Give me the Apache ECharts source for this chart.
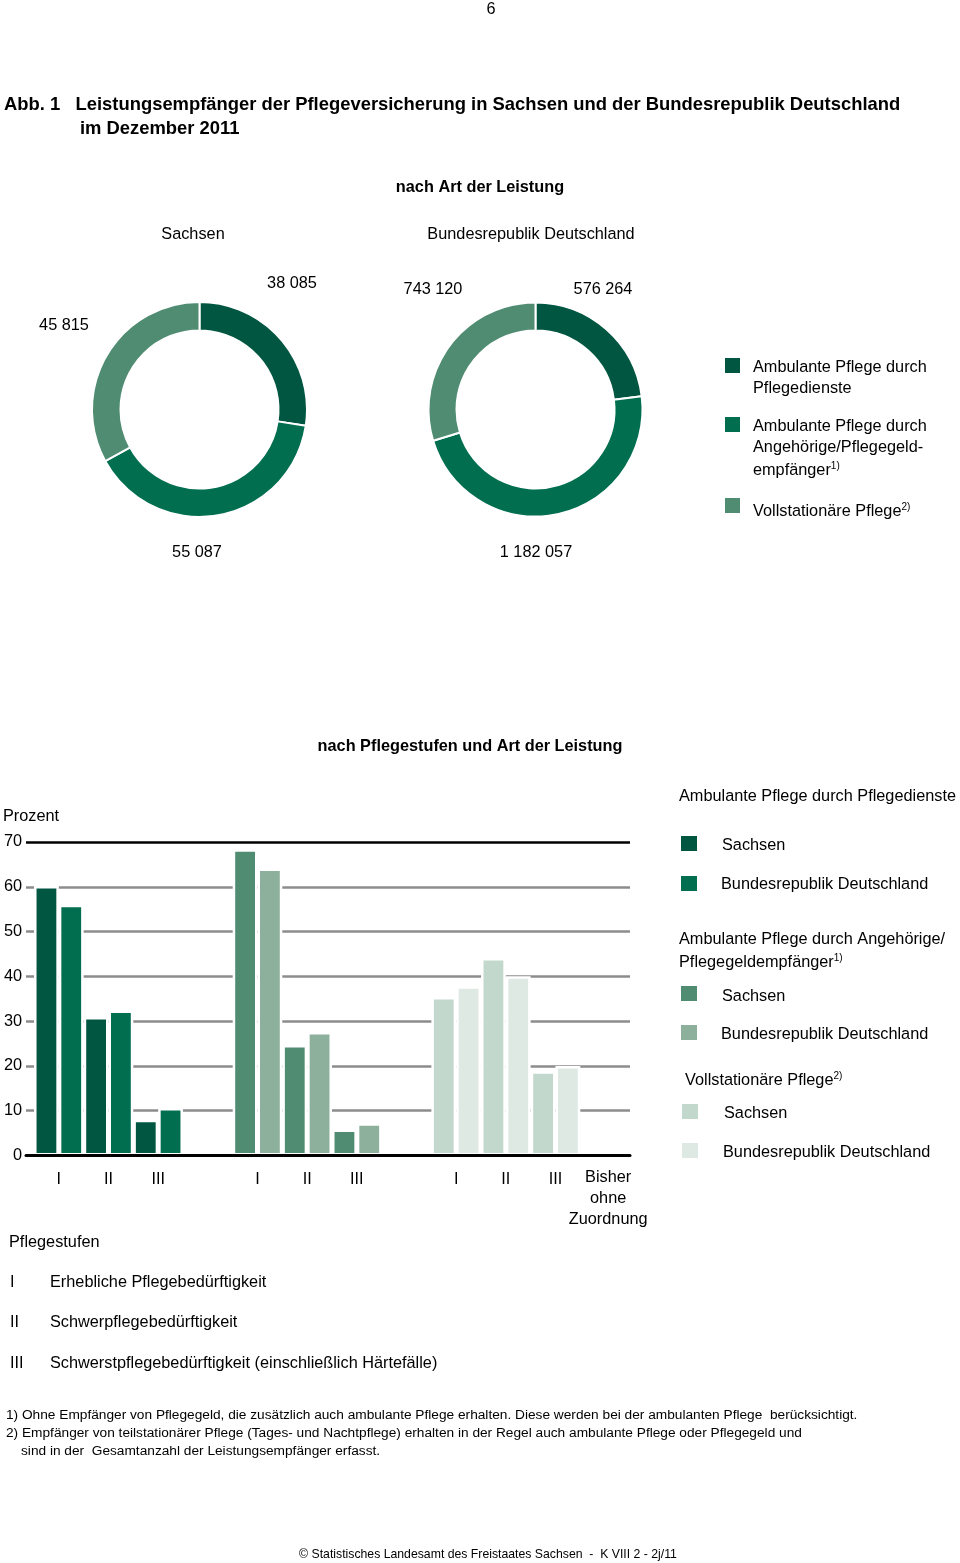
<!DOCTYPE html>
<html>
<head>
<meta charset="utf-8">
<script src="https://cdn.jsdelivr.net/npm/echarts@6/dist/echarts.min.js"></script>
<style>
html,body{margin:0;padding:0;background:#fff;}
#c{width:960px;height:1563px;}
</style>
</head>
<body>
<div id="c"></div>
<script>
// ---- Data: donuts (Leistungsempfänger, Dezember 2011) ----
const pieCategories = ['Ambulante Pflege durch Pflegedienste', 'Ambulante Pflege durch Angehörige/Pflegegeldempfänger', 'Vollstationäre Pflege'];
const pieSachsen = [38085, 55087, 45815];
const pieBRD = [576264, 1182057, 743120];
const pieColors = ['#005640', '#006e4f', '#4f8c72'];

// ---- Data: bars (Prozent nach Pflegestufen) ----
const barCategories = ['I', 'II', 'III', '', 'I', 'II', 'III', '', 'I', 'II', 'III', 'Bisher\nohne\nZuordnung'];
const barSachsen = [60.2, 30.9, 8.0, null, 68.4, 24.7, 5.8, null, 35.4, 44.1, 18.8, 0.4];
const barBRD     = [56.0, 32.4, 10.6, null, 64.1, 27.6, 7.2, null, 37.8, 40.0, 20.0, 0.7];
const colSachsen = ['#005640', '#005640', '#005640', null, '#4f8c72', '#4f8c72', '#4f8c72', null, '#c3d8cd', '#c3d8cd', '#c3d8cd', '#c3d8cd'];
const colBRD     = ['#006e4f', '#006e4f', '#006e4f', null, '#8cb09c', '#8cb09c', '#8cb09c', null, '#dfe9e4', '#dfe9e4', '#dfe9e4', '#dfe9e4'];
const yTicks = [0, 10, 20, 30, 40, 50, 60, 70];

const FONT = '"Liberation Sans", Arial, Helvetica, sans-serif';
const FS = 16.3;
const DY = 1.5;
const fmt = n => String(n).replace(/\B(?=(\d{3})+(?!\d))/g, ' ');

function txt(x, y, text, opt) {
  opt = opt || {};
  return {
    type: 'text', x: x, y: y + DY, z: 20,
    style: Object.assign({
      text: text,
      font: (opt.bold ? 'bold ' : '') + (opt.size || FS) + 'px ' + FONT,
      fill: '#000',
      align: opt.align || 'left',
      verticalAlign: 'middle'
    }, opt.extra || {})
  };
}
function sq(x, y, color, w, h) {
  return { type: 'rect', z: 20, shape: { x: x, y: y, width: w || 15, height: h || 15 }, style: { fill: color } };
}
const supRich = { sup: { fontSize: 10, verticalAlign: 'top', padding: [0, 0, 8, 0], fontFamily: FONT }, n: { fontSize: FS, fontFamily: FONT } };
function supTxt(x, y, main, sup) {
  return { type: 'text', x: x, y: y + DY, z: 20, style: { text: '{n|' + main + '}{sup|' + sup + '}', rich: supRich, fill: '#000', verticalAlign: 'middle' } };
}

const graphics = [
  txt(491, 8, '6', { align: 'center' }),
  txt(4, 103, 'Abb. 1   Leistungsempfänger der Pflegeversicherung in Sachsen und der Bundesrepublik Deutschland', { bold: true, size: 18.4 }),
  txt(80, 127, 'im Dezember 2011', { bold: true, size: 18.4 }),
  txt(480, 186, 'nach Art der Leistung', { bold: true, align: 'center' }),
  txt(193, 233, 'Sachsen', { align: 'center' }),
  txt(531, 233, 'Bundesrepublik Deutschland', { align: 'center' }),
  // donut value labels
  txt(292, 282, fmt(pieSachsen[0]), { align: 'center' }),
  txt(64, 324, fmt(pieSachsen[2]), { align: 'center' }),
  txt(197, 551, fmt(pieSachsen[1]), { align: 'center' }),
  txt(603, 288, fmt(pieBRD[0]), { align: 'center' }),
  txt(433, 288, fmt(pieBRD[2]), { align: 'center' }),
  txt(536, 551, fmt(pieBRD[1]), { align: 'center' }),
  // donut legend
  sq(725, 358, pieColors[0]),
  txt(753, 366, 'Ambulante Pflege durch'),
  txt(753, 387, 'Pflegedienste'),
  sq(725, 417, pieColors[1]),
  txt(753, 425, 'Ambulante Pflege durch'),
  txt(753, 446, 'Angehörige/Pflegegeld-'),
  supTxt(753, 469, 'empfänger', '1)'),
  sq(725, 498, pieColors[2]),
  supTxt(753, 510, 'Vollstationäre Pflege', '2)'),
  // bar chart title
  txt(470, 745, 'nach Pflegestufen und Art der Leistung', { bold: true, align: 'center' }),
  txt(3, 815, 'Prozent'),
  // bar legend
  txt(679, 795, 'Ambulante Pflege durch Pflegedienste'),
  sq(681, 836, colSachsen[0], 16, 15),
  txt(722, 844, 'Sachsen'),
  sq(681, 876, colBRD[0], 16, 15),
  txt(721, 883, 'Bundesrepublik Deutschland'),
  txt(679, 938, 'Ambulante Pflege durch Angehörige/'),
  supTxt(679, 961, 'Pflegegeldempfänger', '1)'),
  sq(681, 986, colSachsen[4], 16, 15),
  txt(722, 995, 'Sachsen'),
  sq(681, 1025, colBRD[4], 16, 15),
  txt(721, 1033, 'Bundesrepublik Deutschland'),
  supTxt(685, 1079, 'Vollstationäre Pflege', '2)'),
  sq(682, 1104, colSachsen[8], 16, 15),
  txt(724, 1112, 'Sachsen'),
  sq(682, 1143, colBRD[8], 16, 15),
  txt(723, 1151, 'Bundesrepublik Deutschland'),
  // Pflegestufen
  txt(9, 1241, 'Pflegestufen'),
  txt(10, 1281, 'I'),
  txt(50, 1281, 'Erhebliche Pflegebedürftigkeit'),
  txt(10, 1321, 'II'),
  txt(50, 1321, 'Schwerpflegebedürftigkeit'),
  txt(10, 1362, 'III'),
  txt(50, 1362, 'Schwerstpflegebedürftigkeit (einschließlich Härtefälle)'),
  // footnotes
  txt(6, 1414, '1) Ohne Empfänger von Pflegegeld, die zusätzlich auch ambulante Pflege erhalten. Diese werden bei der ambulanten Pflege  berücksichtigt.', { size: 13.7 }),
  txt(6, 1432, '2) Empfänger von teilstationärer Pflege (Tages- und Nachtpflege) erhalten in der Regel auch ambulante Pflege oder Pflegegeld und', { size: 13.7 }),
  txt(21, 1450, 'sind in der  Gesamtanzahl der Leistungsempfänger erfasst.', { size: 13.7 }),
  txt(488, 1553, '© Statistisches Landesamt des Freistaates Sachsen  -  K VIII 2 - 2j/11', { size: 12.25, align: 'center' })
];

const chart = echarts.init(document.getElementById('c'), null, { renderer: 'canvas' });

const pieData = vals => vals.map((v, i) => ({ name: pieCategories[i], value: v, itemStyle: { color: pieColors[i] } }));
const xCats = barCategories.map(c => c.indexOf('\n') >= 0 ? { value: c, textStyle: { padding: [-2, 0, 0, 6] } } : c);

chart.setOption({
  backgroundColor: '#fff',
  animation: false,
  textStyle: { fontFamily: FONT },
  grid: [
    { left: 34, right: 330, top: 842, bottom: 407.5 },
    { left: 26, right: 330, top: 842, bottom: 407.5 }
  ],
  xAxis: [
    {
      type: 'category', gridIndex: 0, data: xCats,
      axisLine: { show: false }, axisTick: { show: false },
      axisLabel: { color: '#000', fontSize: FS, fontFamily: FONT, margin: 14, lineHeight: 21, interval: 0 }
    },
    {
      type: 'value', gridIndex: 1, min: 0, max: 1, z: 5,
      axisLine: { show: true, lineStyle: { color: '#000', width: 3 } },
      axisTick: { show: false }, axisLabel: { show: false }, splitLine: { show: false }
    }
  ],
  yAxis: [
    { type: 'value', gridIndex: 0, min: 0, max: 70, interval: 10, show: false },
    {
      type: 'value', gridIndex: 1, min: 0, max: 70, interval: 10,
      axisLine: { show: false }, axisTick: { show: false },
      axisLabel: { color: '#000', fontSize: FS, fontFamily: FONT, align: 'right', margin: 4,
        formatter: v => yTicks.indexOf(v) >= 0 ? String(v) : '' },
      splitLine: { show: true, lineStyle: { width: 2.5, color: ['#000', '#8c8c8c', '#8c8c8c', '#8c8c8c', '#8c8c8c', '#8c8c8c', '#8c8c8c', '#000'] } }
    }
  ],
  series: [
    {
      type: 'pie', center: [199.5, 409.5], radius: [79, 107.5], startAngle: 90, clockwise: true,
      label: { show: false }, labelLine: { show: false }, silent: true,
      itemStyle: { borderColor: '#fff', borderWidth: 2 },
      data: pieData(pieSachsen)
    },
    {
      type: 'pie', center: [535.5, 409.5], radius: [79, 107], startAngle: 90, clockwise: true,
      label: { show: false }, labelLine: { show: false }, silent: true,
      itemStyle: { borderColor: '#fff', borderWidth: 2 },
      data: pieData(pieBRD)
    },
    {
      name: 'Sachsen', type: 'bar', xAxisIndex: 0, yAxisIndex: 0,
      barWidth: 24.8, barGap: '0%',
      itemStyle: { borderColor: '#fff', borderWidth: 2.5 },
      data: barSachsen.map((v, i) => ({ value: v, itemStyle: { color: colSachsen[i] || '#fff' } }))
    },
    {
      name: 'Bundesrepublik Deutschland', type: 'bar', xAxisIndex: 0, yAxisIndex: 0,
      barWidth: 24.8, barGap: '0%',
      itemStyle: { borderColor: '#fff', borderWidth: 2.5 },
      data: barBRD.map((v, i) => ({ value: v, itemStyle: { color: colBRD[i] || '#fff' } }))
    }
  ],
  graphic: graphics
});
</script>
</body>
</html>
